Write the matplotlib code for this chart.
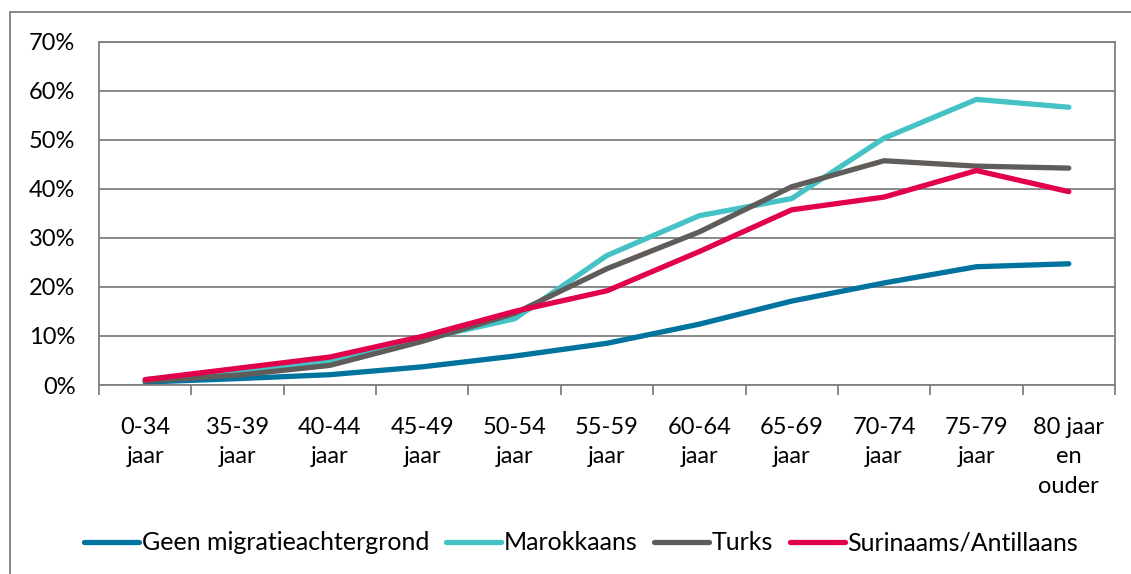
import matplotlib
matplotlib.use('Agg')
import matplotlib.pyplot as plt
from matplotlib.patches import Rectangle
from matplotlib.ticker import FuncFormatter, FixedLocator

plt.rcParams['font.family'] = ['Lato', 'DejaVu Sans']

# leeftijdsgroepen
categories = ['0-34\njaar', '35-39\njaar', '40-44\njaar', '45-49\njaar', '50-54\njaar',
              '55-59\njaar', '60-64\njaar', '65-69\njaar', '70-74\njaar', '75-79\njaar',
              '80 jaar\nen\nouder']

# percentages per groep
geen = [0.6, 1.3, 2.1, 3.7, 5.9, 8.5, 12.4, 17.1, 20.8, 24.1, 24.7]
marokkaans = [1.1, 2.5, 5.0, 9.3, 13.5, 26.4, 34.5, 38.0, 50.3, 58.2, 56.6]
turks = [0.8, 2.0, 4.0, 8.9, 14.6, 23.7, 31.2, 40.4, 45.7, 44.6, 44.2]
surinaams = [1.1, 3.4, 5.7, 9.9, 15.0, 19.2, 27.2, 35.7, 38.3, 43.7, 39.4]

series = [
    ('Geen migratieachtergrond', geen, '#00739F'),
    ('Marokkaans', marokkaans, '#45C2C5'),
    ('Turks', turks, '#5F5C5A'),
    ('Surinaams/Antillaans', surinaams, '#E3004B'),
]

fig = plt.figure(figsize=(11.31, 5.74), dpi=100)
ax = fig.add_axes([99 / 1131, 1 - 385 / 574, (1115 - 99) / 1131, (385 - 41.5) / 574])

x = list(range(len(categories)))
for name, vals, col in series:
    ax.plot(x, vals, color=col, lw=3.8, solid_capstyle='round', solid_joinstyle='round', label=name)

ax.set_xlim(-0.5, len(categories) - 0.5)
ax.set_ylim(0, 70)
ax.set_yticks(range(0, 71, 10))
ax.yaxis.set_major_formatter(FuncFormatter(lambda v, p: f'{int(v)}%'))
ax.grid(axis='y', color='#7F7F7F', lw=1.3)
ax.set_axisbelow(True)

ax.set_xticks(x)
ax.set_xticklabels(categories, linespacing=1.5)
ax.xaxis.set_minor_locator(FixedLocator([i - 0.5 for i in range(len(categories) + 1)]))
ax.tick_params(axis='x', which='major', length=0, pad=23, labelsize=17)
ax.tick_params(axis='x', which='minor', length=7, width=1.3, color='#7F7F7F')
ax.tick_params(axis='y', length=0, pad=17, labelsize=17)
for s in ax.spines.values():
    s.set_color('#7F7F7F')
    s.set_linewidth(1.3)

fig.legend(loc='center', bbox_to_anchor=(0.514, 1 - 543 / 574), ncol=4, frameon=False,
           fontsize=18, handlelength=2.2, handletextpad=0.12, columnspacing=0.65)

# rand rond de grafiek
fig.patches.append(Rectangle((10 / 1131, -0.1), 1.2, 1.1 - 12 / 574, transform=fig.transFigure,
                             fill=False, edgecolor='#7F7F7F', lw=1.3))

fig.savefig('out.png', dpi=100)
